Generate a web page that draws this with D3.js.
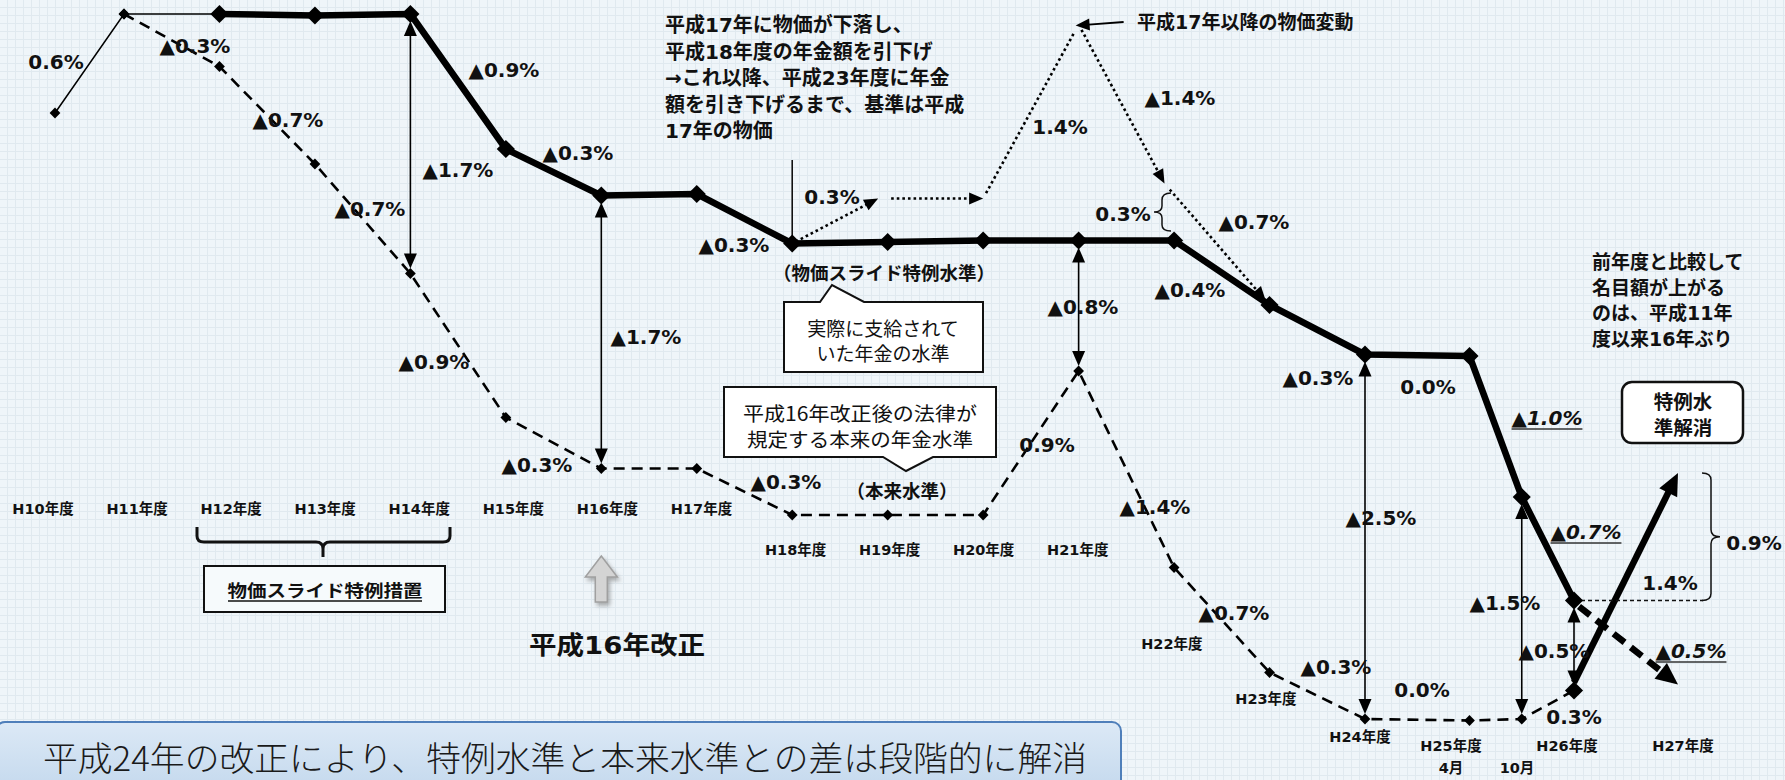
<!DOCTYPE html>
<html><head><meta charset="utf-8">
<script src="https://cdn.jsdelivr.net/npm/d3@7"></script>
<style>html,body{margin:0;padding:0;background:#f0f6f9;overflow:hidden}</style>
</head><body><svg id="c" width="1785" height="780"></svg>
<script>
// ---------------- data ----------------
const categories = ["H10年度","H11年度","H12年度","H13年度","H14年度","H15年度","H16年度","H17年度","H18年度","H19年度","H20年度","H21年度","H22年度","H23年度","H24年度","H25年度","H26年度","H27年度"];
const categoryYears = [10,11,12,13,14,15,16,17,18,19,20,21,22,23,24,25,26,27];
const subCategories = ["4月","10月"];
const subYears = [25,25.5];

// 特例水準 (thick solid line), level in % relative to H12
const tokureiYears  = [12,13,14,15,16,17,18,19,20,21,22,23,24,25,25.5,26];
const tokureiLevels = [0,-0.01,0,-0.9,-1.21,-1.2,-1.53,-1.52,-1.51,-1.51,-1.51,-1.94,-2.27,-2.28,-3.22,-3.91];
// H10-H12 thin line
const earlyYears  = [10,11,12];
const earlyLevels = [-0.66,0,0];
// 本来水準 (dashed line)
const honraiYears  = [11,12,13,14,15,16,17,18,19,20,21,22,23,24,25,25.5,26];
const honraiLevels = [0,-0.35,-1.0,-1.73,-2.69,-3.03,-3.03,-3.34,-3.34,-3.34,-2.38,-3.69,-4.39,-4.70,-4.71,-4.70,-4.51];
// 平成17年以降の物価変動 (dotted)
const priceYears  = [18,18.9,20,21,21.9,23];
const priceLevels = [-1.53,-1.23,-1.23,-0.07,-1.13,-1.94];
// H27 (特例水準解消)
const h27Years   = [26,27];
const h27Honrai  = [-4.51,-3.06];
const h27Tokurei = [-3.91,-4.47];
// gaps between 特例水準 and 本来水準
const gapYears  = [14,16,21,24,25.5,26];

// change labels
const changeTexts = ["0.6%","▲0.3%","▲0.7%","▲0.7%","▲1.7%","▲0.9%","▲0.3%","▲0.9%","▲0.3%","▲1.7%","▲0.3%","0.3%","1.4%","▲1.4%","▲0.7%","▲0.4%","▲0.8%","0.9%","▲0.3%","▲1.4%","▲0.7%","▲0.3%","0.0%","▲0.3%","0.0%","▲2.5%","0.9%","1.4%","▲1.5%","▲0.5%","0.3%","0.3%"];
const italicTexts = ["1.0%","0.7%","0.5%"];

// ---------------- layout ----------------
const changePos = [[56,62],[195,46],[288,120],[370,209],[458,170],[504,70],[578,153],[434,362],[537,465],[646,337],[734,245],[832,197],[1060,127],[1180,98],[1254,222],[1190,290],[1083,307],[1047,445],[786,482],[1155,507],[1234,613],[1336,667],[1422,690],[1318,378],[1428,387],[1381,518],[1754,543],[1670,583],[1505,603],[1554,651],[1574,717],[1123,214]];
const italicPos = [[1547,418],[1586,532],[1691,651]];

const svg = d3.select("#c");
const FONT = '"DejaVu Sans","Noto Sans CJK JP",sans-serif';
const JFONT = '"Noto Sans CJK JP","DejaVu Sans",sans-serif';

const x  = d3.scaleLinear().domain([10,11,24,26,27]).range([55,124,1365,1574,1678]);
const xl = d3.scaleLinear().domain([10,24,25,27]).range([43,1360,1451,1683]);
const y  = d3.scaleLinear().domain([0,-5]).range([14,764]);
function rowY(yr){ if(yr<=17) return 509; if(yr<=21) return 550; if(yr===22) return 644; if(yr===23) return 699; if(yr===24) return 737; return 746; }
function val(ys, ls, yr){ return ls[ys.indexOf(yr)]; }

// background
const defs = svg.append("defs");
const pat = defs.append("pattern").attr("id","grid").attr("width",8).attr("height",8).attr("patternUnits","userSpaceOnUse");
pat.append("rect").attr("width",8).attr("height",8).attr("fill","#eff5f9");
pat.append("path").attr("d","M7.5,0V8M0,7.5H8").attr("stroke","#e0e9ef").attr("stroke-width",1);
svg.append("rect").attr("width",1785).attr("height",780).attr("fill","url(#grid)");
const bg = defs.append("linearGradient").attr("id","bx").attr("x1",0).attr("y1",0).attr("x2",0).attr("y2",1);
bg.append("stop").attr("offset",0).attr("stop-color","#dce9f6");
bg.append("stop").attr("offset",1).attr("stop-color","#c3d8ed");
const sh = defs.append("filter").attr("id","sh").attr("x","-50%").attr("y","-50%").attr("width","200%").attr("height","200%");
sh.append("feDropShadow").attr("dx",2).attr("dy",3).attr("stdDeviation",2).attr("flood-color","#777").attr("flood-opacity",0.6);

const g = svg.append("g");

function txt(px, py, s, o={}) {
  const t = g.append("text").attr("x",px).attr("y",py)
    .attr("text-anchor",o.anchor||"middle").attr("dominant-baseline","central")
    .attr("font-family",o.family||FONT).attr("font-size",o.size||20)
    .attr("font-weight",o.weight||"bold").attr("fill",o.fill||"#111").text(s);
  if(o.len) t.attr("textLength",o.len).attr("lengthAdjust","spacingAndGlyphs");
  return t;
}
function arrow(x1,y1,x2,y2,o={}) {
  const L=Math.hypot(x2-x1,y2-y1), ux=(x2-x1)/L, uy=(y2-y1)/L;
  const len=o.len||14, wid=o.wid||12;
  let sx=x1,sy=y1,ex=x2,ey=y2;
  if(o.end){ex=x2-ux*len*0.7;ey=y2-uy*len*0.7;}
  if(o.start){sx=x1+ux*len*0.7;sy=y1+uy*len*0.7;}
  g.append("line").attr("x1",sx).attr("y1",sy).attr("x2",ex).attr("y2",ey)
    .attr("stroke","#000").attr("stroke-width",o.w||1.6)
    .attr("stroke-dasharray",o.dash||null).attr("stroke-linecap",o.cap||"butt");
  const headAt=(tx,ty,dx,dy)=>{const bx=tx-dx*len,by=ty-dy*len,px=-dy,py=dx;
    g.append("path").attr("d",`M${tx},${ty}L${bx+px*wid/2},${by+py*wid/2}L${bx-px*wid/2},${by-py*wid/2}Z`).attr("fill","#000");};
  if(o.end) headAt(x2,y2,ux,uy);
  if(o.start) headAt(x1,y1,-ux,-uy);
}
function trimmed(a,b,t1,t2){const L=Math.hypot(b[0]-a[0],b[1]-a[1]),ux=(b[0]-a[0])/L,uy=(b[1]-a[1])/L;
  return [a[0]+ux*t1,a[1]+uy*t1,b[0]-ux*t2,b[1]-uy*t2];}

// bottom box
g.append("rect").attr("x",-4).attr("y",722).attr("width",1125).attr("height",72).attr("rx",9)
  .attr("fill","url(#bx)").attr("stroke","#4f7fba").attr("stroke-width",2);
txt(565,756,"平成24年の改正により、特例水準と本来水準との差は段階的に解消",{family:JFONT,size:34,weight:300,len:1044,fill:"#1a1a1a"});

// callout boxes
g.append("path").attr("d","M784,302H820L832,285L864,302H983V372H784Z").attr("fill","#fff").attr("stroke","#111").attr("stroke-width",2);
txt(883,327,"実際に支給されて",{family:JFONT,size:19,weight:400});
txt(883,352,"いた年金の水準",{family:JFONT,size:19,weight:400});
g.append("path").attr("d","M724,387H996V457H933L906,471L883,457H724Z").attr("fill","#fff").attr("stroke","#111").attr("stroke-width",2);
txt(860,412,"平成16年改正後の法律が",{family:JFONT,size:19.5,weight:400,len:234});
txt(860,438,"規定する本来の年金水準",{family:JFONT,size:19.5,weight:400,len:226});

// 特例水準解消 box
g.append("rect").attr("x",1622).attr("y",382).attr("width",121).attr("height",61).attr("rx",10)
  .attr("fill","#fff").attr("stroke","#111").attr("stroke-width",2.5);
txt(1683,400,"特例水",{family:JFONT,size:19.5});
txt(1683,426,"準解消",{family:JFONT,size:19.5});

// 物価スライド特例措置 box + brace
g.append("rect").attr("x",204).attr("y",566).attr("width",241).attr("height",46)
  .attr("fill","#f6fafc").attr("stroke","#111").attr("stroke-width",2);
txt(325,589,"物価スライド特例措置",{family:JFONT,size:17,len:195});
g.append("line").attr("x1",228).attr("x2",422).attr("y1",601).attr("y2",601).attr("stroke","#111").attr("stroke-width",1.5);
g.append("path").attr("d","M197,527V536Q197,542 204,542H316Q323,542 323,549V557M323,549Q323,542 330,542H443Q450,542 450,536V527")
  .attr("fill","none").attr("stroke","#111").attr("stroke-width",3);

// gray up arrow (平成16年改正)
const ax = x(16);
g.append("path").attr("d",`M${ax},556L${ax+16},577H${ax+6}V602H${ax-6}V577H${ax-16}Z`)
  .attr("fill","#d4d4d4").attr("stroke","#a0a0a0").attr("stroke-width",1.5).attr("filter","url(#sh)");
txt(617,645,"平成16年改正",{size:25,len:176});

// ---------- lines ----------
const ln = d3.line().x(d=>x(d[0])).y(d=>y(d[1]));
const honrai = d3.zip(honraiYears,honraiLevels);
const tokurei = d3.zip(tokureiYears,tokureiLevels);
const early = d3.zip(earlyYears,earlyLevels);

g.append("path").attr("d",ln(honrai)).attr("fill","none").attr("stroke","#000").attr("stroke-width",2.6).attr("stroke-dasharray","11,7");
g.append("path").attr("d",ln(early)).attr("fill","none").attr("stroke","#000").attr("stroke-width",1.5);
g.append("path").attr("d",ln(tokurei)).attr("fill","none").attr("stroke","#000").attr("stroke-width",6.5).attr("stroke-linejoin","round");

// dotted price path
const pp = d3.zip(priceYears,priceLevels).map(d=>[x(d[0]),y(d[1])]);
const dot = {w:2.6,dash:"2.6,3",len:14,wid:12};
let s;
s=trimmed(pp[0],pp[1],4,0); arrow(s[0],s[1],s[2],s[3],{...dot,end:true});
s=trimmed(pp[1],pp[2],13,0); arrow(s[0],s[1],s[2],s[3],{...dot,end:true});
s=trimmed(pp[2],pp[3],6,8); arrow(s[0],s[1],s[2],s[3],{...dot});
s=trimmed(pp[3],pp[4],6,0); arrow(s[0],s[1],s[2],s[3],{...dot,end:true});
s=trimmed(pp[4],pp[5],8,6); arrow(s[0],s[1],s[2],s[3],{...dot,end:true});
// annotation pointer to peak
arrow(x(21)+45,22,pp[3][0]-3,pp[3][1]+1,{w:1.8,end:true,len:14,wid:12});
txt(1137,22,"平成17年以降の物価変動",{anchor:"start",size:19});

// H27 arrows
arrow(x(26),y(h27Honrai[0])-8,x(27),y(h27Honrai[1]),{w:6.5,end:true,len:22,wid:20});
arrow(x(26)+5,y(h27Tokurei[0])+6,x(27),y(h27Tokurei[1]),{w:6.5,end:true,len:22,wid:20,dash:"14,8"});
g.append("line").attr("x1",x(26)).attr("x2",1703).attr("y1",y(-3.91)).attr("y2",y(-3.91))
  .attr("stroke","#111").attr("stroke-width",1.3).attr("stroke-dasharray","4,3");
const bt=y(h27Honrai[1]), bb=y(-3.91), bm=(bt+bb)/2;
g.append("path").attr("d",`M1702,${bt}Q1711,${bt} 1711,${bt+7}V${bm-7}Q1711,${bm} 1720,${bm}Q1711,${bm} 1711,${bm+7}V${bb-7}Q1711,${bb} 1702,${bb}`)
  .attr("fill","none").attr("stroke","#111").attr("stroke-width",1.5);

// brace 0.3%
g.append("path").attr("d","M1171,193Q1162,193 1162,200V206Q1162,212 1154,212Q1162,212 1162,218V225Q1162,231 1171,231")
  .attr("fill","none").attr("stroke","#111").attr("stroke-width",1.5);

// annotation text + pointer line
const note = ["平成17年に物価が下落し、","平成18年度の年金額を引下げ","→これ以降、平成23年度に年金","額を引き下げるまで、基準は平成","17年の物価"];
note.forEach((t,i)=>txt(665,25+i*26.5,t,{anchor:"start",size:20}));
g.append("line").attr("x1",x(18)).attr("x2",x(18)).attr("y1",160).attr("y2",y(-1.53)-4).attr("stroke","#111").attr("stroke-width",1.6);

// gap double arrows
gapYears.forEach(yr=>{
  const t=y(val(tokureiYears,tokureiLevels,yr))+7, b=y(val(honraiYears,honraiLevels,yr))-5;
  arrow(x(yr),t,x(yr),b,{w:1.6,start:true,end:true,len:15,wid:13});
});

// diamonds
const dia = (sz)=>d3.symbol().type(d3.symbolSquare).size(sz)();
g.selectAll(".dh").data(honrai).join("path").attr("d",dia(58)).attr("fill","#000")
  .attr("transform",d=>`translate(${x(d[0])},${y(d[1])}) rotate(45)`);
g.selectAll(".de").data(early.slice(0,2)).join("path").attr("d",dia(58)).attr("fill","#000")
  .attr("transform",d=>`translate(${x(d[0])},${y(d[1])}) rotate(45)`);
g.selectAll(".dt").data(tokurei).join("path").attr("d",dia(165)).attr("fill","#000")
  .attr("transform",d=>`translate(${x(d[0])},${y(d[1])}) rotate(45)`);
g.append("path").attr("d",dia(165)).attr("fill","#000").attr("transform",`translate(${x(26)},${y(h27Honrai[0])}) rotate(45)`);

// category labels
categories.forEach((c,i)=>txt(xl(categoryYears[i]),rowY(categoryYears[i]),c,{size:14.5}));
subCategories.forEach((c,i)=>txt(xl(subYears[i])+(i?8:0),768,c,{size:14.5}));

// level names
txt(884,272,"（物価スライド特例水準）",{family:JFONT,size:18.5});
txt(902,490,"（本来水準）",{family:JFONT,size:18.5});

// right note
["前年度と比較して","名目額が上がる","のは、平成11年","度以来16年ぶり"].forEach((t,i)=>txt(1592,262+i*25.5,t,{anchor:"start",size:19}));

// change labels
changeTexts.forEach((t,i)=>txt(changePos[i][0],changePos[i][1],t,{size:20}));
italicTexts.forEach((t,i)=>{
  const tt = txt(italicPos[i][0],italicPos[i][1],"▲",{size:20});
  tt.append("tspan").attr("font-style","italic").text(t);
  const bb = tt.node().getBBox();
  g.append("line").attr("x1",bb.x).attr("x2",bb.x+bb.width).attr("y1",italicPos[i][1]+11).attr("y2",italicPos[i][1]+11)
    .attr("stroke","#333").attr("stroke-width",1.5);
});
</script></body></html>
